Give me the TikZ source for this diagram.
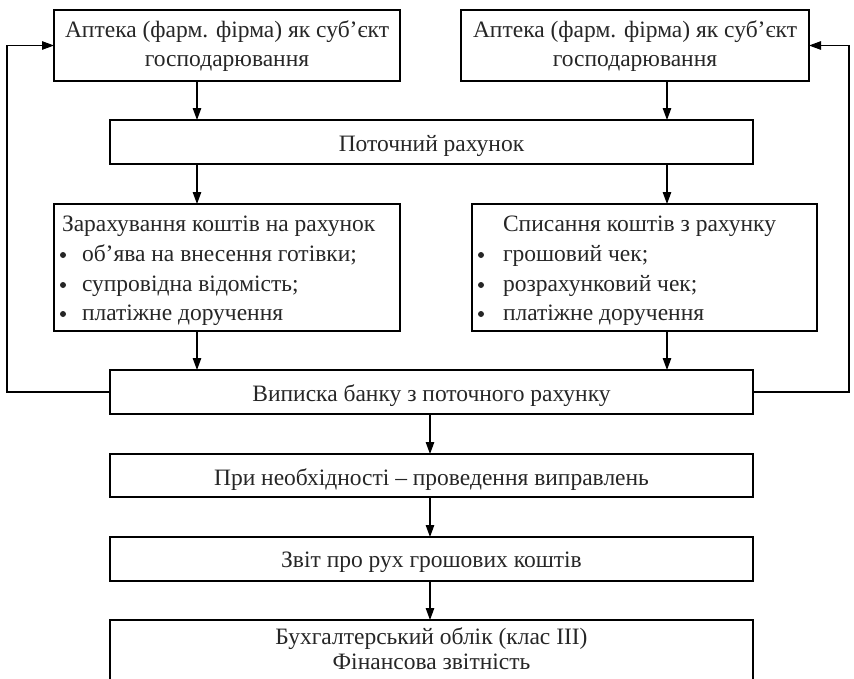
\documentclass[tikz,border=0pt]{standalone}
\usepackage{fontspec}
\setmainfont{Liberation Serif}
\usetikzlibrary{arrows.meta}
\begin{document}
\begin{tikzpicture}[x=1pt,y=-1pt,
  box/.style={draw,line width=1.2pt,inner sep=0pt,outer sep=0pt,rectangle},
  txt/.style={inner sep=0pt,outer sep=0pt,font=\fontsize{23.5}{28}\selectfont,text=black!85},
  dot/.style={circle,fill=black!85,inner sep=0pt,minimum size=6pt},
  arr/.style={-{Triangle[length=12pt,width=8.5pt]},line width=1.1pt}]
\useasboundingbox (0,0) rectangle (854,678);
\clip (0,0) rectangle (854,678);

% columns used by the vertical connectors and the feedback loops
\coordinate (cl) at (197,0);
\coordinate (cr) at (667,0);
\coordinate (cm) at (430,0);
\coordinate (fl) at (7,0);
\coordinate (fr) at (849,0);

% boxes
\node[box,minimum width=346pt,minimum height=71pt] (A1) at (227,45.5) {};
\node[box,minimum width=348pt,minimum height=71pt] (A2) at (635,45.5) {};
\node[box,minimum width=643pt,minimum height=44pt] (P) at (431.5,142) {};
\node[box,minimum width=346pt,minimum height=127pt] (Z) at (227,267.5) {};
\node[box,minimum width=345pt,minimum height=127pt] (S) at (644.5,267.5) {};
\node[box,minimum width=643pt,minimum height=44pt] (V) at (431.5,392) {};
\node[box,minimum width=643pt,minimum height=43pt] (N) at (431.5,475.5) {};
\node[box,minimum width=643pt,minimum height=44pt] (R) at (431.5,559) {};
\node[box,minimum width=643pt,minimum height=100pt] (B) at (431.5,670) {};

% texts
\node[txt,anchor=base] (a1a) at (227,37) {Аптека (фарм. фірма) як суб’єкт};
\node[txt,anchor=base] (a1b) at (227,66) {господарювання};
\node[txt,anchor=base] (a2a) at (635,37) {Аптека (фарм. фірма) як суб’єкт};
\node[txt,anchor=base] (a2b) at (635,66) {господарювання};
\node[txt,anchor=base] (pt) at (431.5,151.5) {Поточний рахунок};

\node[txt,anchor=base west] (z0) at (62,231) {Зарахування коштів на рахунок};
\node[txt,anchor=base west] (z1) at (82,261) {об’ява на внесення готівки;};
\node[txt,anchor=base west] (z2) at (82,291) {супровідна відомість;};
\node[txt,anchor=base west] (z3) at (82,320) {платіжне доручення};
\foreach \yy in {261,291,320} \node[dot] at (63,\yy-6) {};

\node[txt,anchor=base west] (s0) at (503,231) {Списання коштів з рахунку};
\node[txt,anchor=base west] (s1) at (503,261) {грошовий чек;};
\node[txt,anchor=base west] (s2) at (503,291) {розрахунковий чек;};
\node[txt,anchor=base west] (s3) at (503,320) {платіжне доручення};
\foreach \yy in {261,291,320} \node[dot] at (481,\yy-6) {};

\node[txt,anchor=base] (vt) at (431.5,401.5) {Виписка банку з поточного рахунку};
\node[txt,anchor=base] (nt) at (431.5,485) {При необхідності – проведення виправлень};
\node[txt,anchor=base] (rt) at (431.5,567) {Звіт про рух грошових коштів};
\node[txt,anchor=base] (b1) at (431.5,644) {Бухгалтерський облік (клас III)};
\node[txt,anchor=base] (b2) at (431.5,669) {Фінансова звітність};

% vertical connectors
\draw[arr] (A1.south -| cl) -- (P.north -| cl);
\draw[arr] (A2.south -| cr) -- (P.north -| cr);
\draw[arr] (P.south -| cl) -- (Z.north -| cl);
\draw[arr] (P.south -| cr) -- (S.north -| cr);
\draw[arr] (Z.south -| cl) -- (V.north -| cl);
\draw[arr] (S.south -| cr) -- (V.north -| cr);
\draw[arr] (V.south -| cm) -- (N.north -| cm);
\draw[arr] (N.south -| cm) -- (R.north -| cm);
\draw[arr] (R.south -| cm) -- (B.north -| cm);

% feedback loops back to the pharmacies
\draw[arr] (V.west) -- (V.west -| fl) |- (A1.west);
\draw[arr] (V.east) -- (V.east -| fr) |- (A2.east);
\end{tikzpicture}
\end{document}
